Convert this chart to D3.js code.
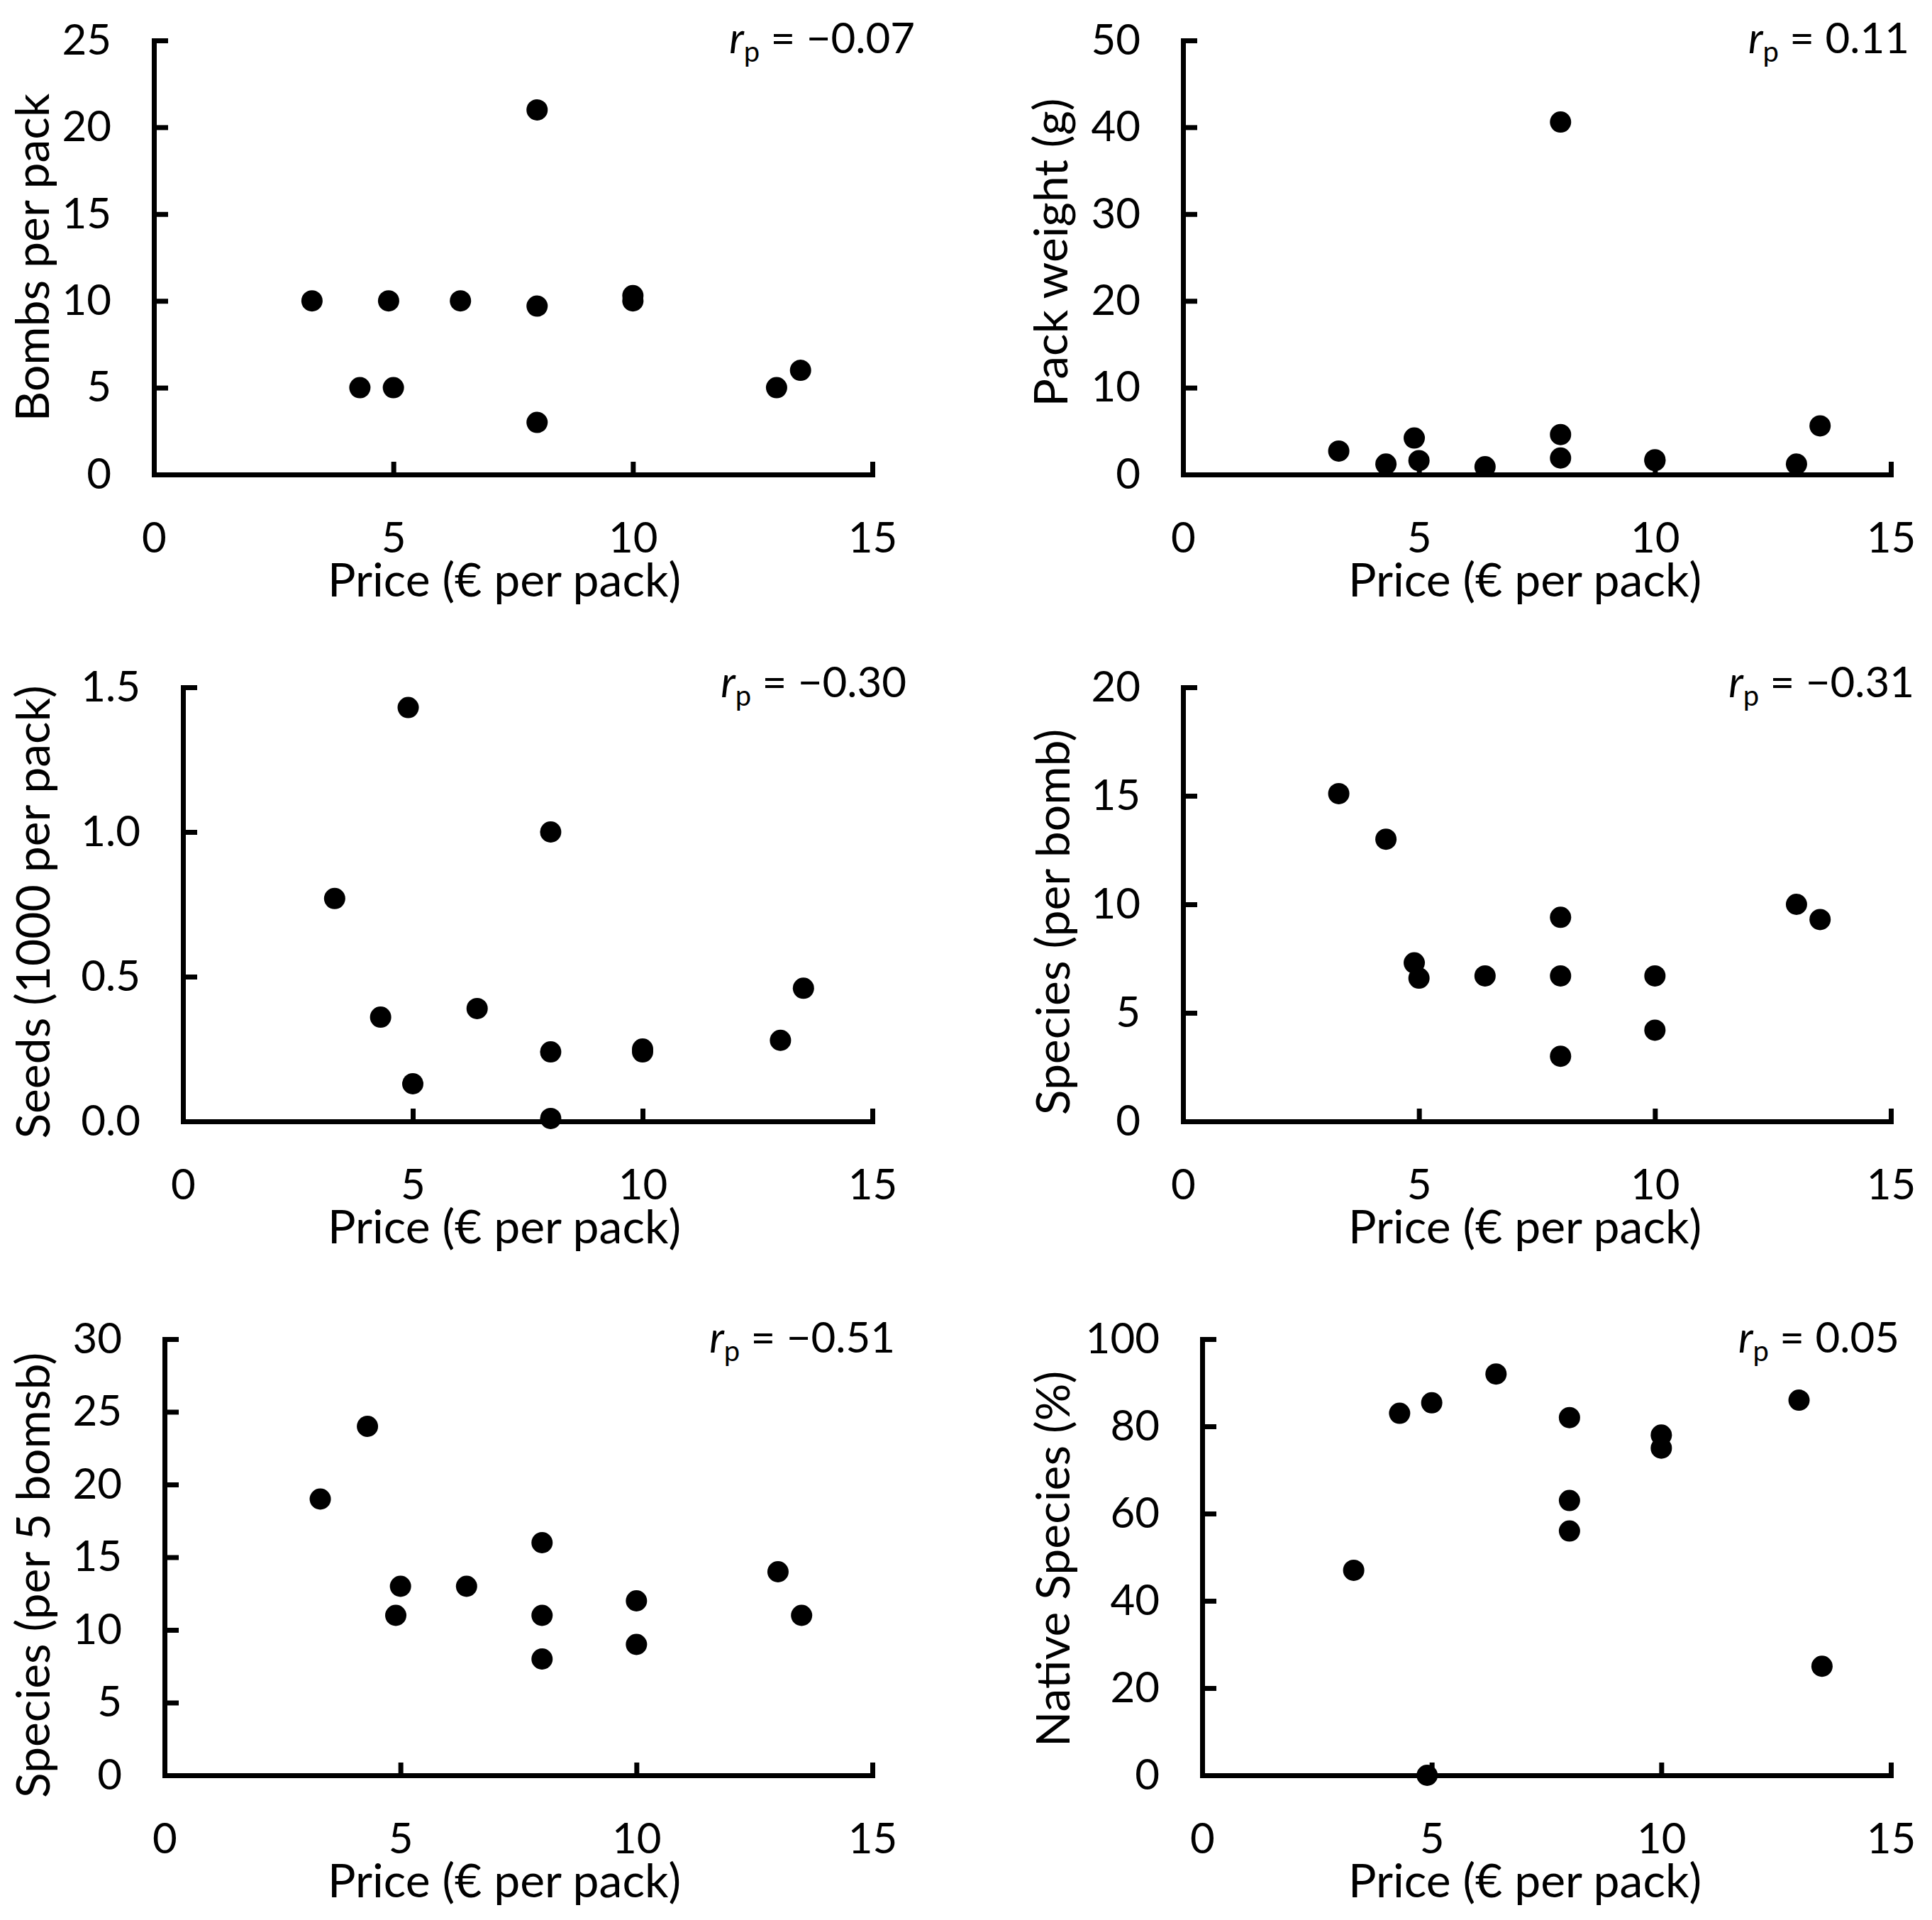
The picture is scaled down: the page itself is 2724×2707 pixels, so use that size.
<!DOCTYPE html>
<html>
<head>
<meta charset="utf-8">
<script src="https://cdn.jsdelivr.net/npm/d3@7"></script>
<style>
body { margin: 0; background: #fff; }
svg text { font-family: Lato, "Open Sans", sans-serif; fill: #000; }
</style>
</head>
<body>
<svg id="chart" width="2724" height="2707"></svg>
<script>
// price of each seed-bomb product (x for every panel)
var price = [3.3, 4.3, 4.9, 5.0, 6.4, 8.0, 8.0, 8.0, 10.0, 10.0, 13.0, 13.5];

// y values, same product order as price
var bombsPerPack   = [10, 5, 10, 5, 10, 21, 9.7, 3, 10.3, 10, 5, 6];
var packWeight     = [2.7, 1.2, 4.2, 1.6, 0.9, 40.6, 4.6, 1.9, 1.7, 1.6, 1.2, 5.6];
var seedsPerPack   = [0.77, 0.36, 1.43, 0.13, 0.39, 1.0, 0.24, 0.01, 0.25, 0.24, 0.28, 0.46];
var speciesPerBomb = [15.1, 13.0, 7.3, 6.6, 6.7, 9.4, 6.7, 3.0, 6.7, 4.2, 10.0, 9.3];
var speciesPer5    = [19, 24, 11, 13, 13, 16, 11, 8, 12, 9, 14, 11];
var nativePct      = [47, 83, 0, 85.4, 92, 82, 63, 56, 78, 75, 86, 25];

var series  = [bombsPerPack, packWeight, seedsPerPack, speciesPerBomb, speciesPer5, nativePct];
var yTitles = ["Bombs per pack", "Pack weight (g)", "Seeds (1000 per pack)",
               "Species (per bomb)", "Species (per 5 bomsb)", "Native Species (%)"];
var yMax    = [25, 50, 1.5, 20, 30, 100];
var yStep   = [5, 10, 0.5, 5, 5, 20];
var yFormat = ["d", "d", ".1f", "d", "d", "d"];
var rValues = ["\u22120.07", "0.11", "\u22120.30", "\u22120.31", "\u22120.51", "0.05"];
var xTicks  = [0, 5, 10, 15];
var xTitle  = "Price (\u20ac per pack)";

// panel frames in page pixels
var frames = [
  {x0: 217,  x1: 1230, top: 57,   bottom: 669,  tx: 69,   ty: 363,  lx: 711,  rx: 1290, ry: 75},
  {x0: 1668, x1: 2666, top: 57,   bottom: 669,  tx: 1505, ty: 356,  lx: 2150, rx: 2692, ry: 75},
  {x0: 258,  x1: 1230, top: 969,  bottom: 1581, tx: 70,   ty: 1286, lx: 711,  rx: 1278, ry: 983},
  {x0: 1668, x1: 2666, top: 969,  bottom: 1581, tx: 1508, ty: 1300, lx: 2150, rx: 2699, ry: 983},
  {x0: 232,  x1: 1230, top: 1888, bottom: 2503, tx: 70,   ty: 2221, lx: 711,  rx: 1262, ry: 1907},
  {x0: 1695, x1: 2666, top: 1888, bottom: 2503, tx: 1508, ty: 2198, lx: 2150, rx: 2678, ry: 1907}
];

var tickFont = 60, titleFont = 66, lineW = 7, dotR = 15;

var svg = d3.select("#chart");
svg.append("rect").attr("width", 2724).attr("height", 2707).attr("fill", "#fff");

frames.forEach(function(f, i) {
  var g = svg.append("g");

  var x = d3.scaleLinear().domain([0, 15]).range([f.x0, f.x1]);
  var y = d3.scaleLinear().domain([0, yMax[i]]).range([f.bottom, f.top]);
  var yTicks = d3.range(0, yMax[i] + yStep[i] / 2, yStep[i]);

  // y axis, ticks pointing inwards
  var ya = g.append("g")
      .attr("transform", "translate(" + f.x0 + ",0)")
      .call(d3.axisLeft(y).tickValues(yTicks).tickFormat(d3.format(yFormat[i]))
              .tickSize(-20).tickSizeOuter(0).tickPadding(60));

  // x axis
  var xa = g.append("g")
      .attr("transform", "translate(0," + f.bottom + ")")
      .call(d3.axisBottom(x).tickValues(xTicks).tickSize(-18).tickSizeOuter(0));
  xa.selectAll("text").attr("y", 110).attr("dy", null);

  [ya, xa].forEach(function(a) {
    a.attr("font-family", null).attr("font-size", tickFont);
    a.select(".domain").attr("stroke", "#000").attr("stroke-width", lineW)
      .attr("stroke-linecap", "square");
    a.selectAll(".tick line").attr("stroke", "#000").attr("stroke-width", lineW);
    a.selectAll(".tick text").attr("fill", "#000");
  });

  // axis titles
  g.append("text")
      .attr("transform", "translate(" + f.tx + "," + f.ty + ") rotate(-90)")
      .attr("text-anchor", "middle")
      .attr("font-size", titleFont)
      .text(yTitles[i]);

  g.append("text")
      .attr("x", f.lx).attr("y", f.bottom + 172)
      .attr("text-anchor", "middle")
      .attr("font-size", titleFont)
      .text(xTitle);

  // correlation label
  var r = g.append("text")
      .attr("x", f.rx).attr("y", f.ry)
      .attr("text-anchor", "end")
      .attr("font-size", tickFont);
  r.append("tspan").attr("font-style", "italic").text("r");
  r.append("tspan").attr("font-size", 40).attr("dy", 12).text("p");
  r.append("tspan").attr("dy", -12).text(" = " + rValues[i]);

  // points
  g.selectAll("circle")
    .data(price.map(function(p, j) { return [p, series[i][j]]; }))
    .join("circle")
      .attr("cx", function(d) { return x(d[0]); })
      .attr("cy", function(d) { return y(d[1]); })
      .attr("r", dotR)
      .attr("fill", "#000");
});
</script>
</body>
</html>
